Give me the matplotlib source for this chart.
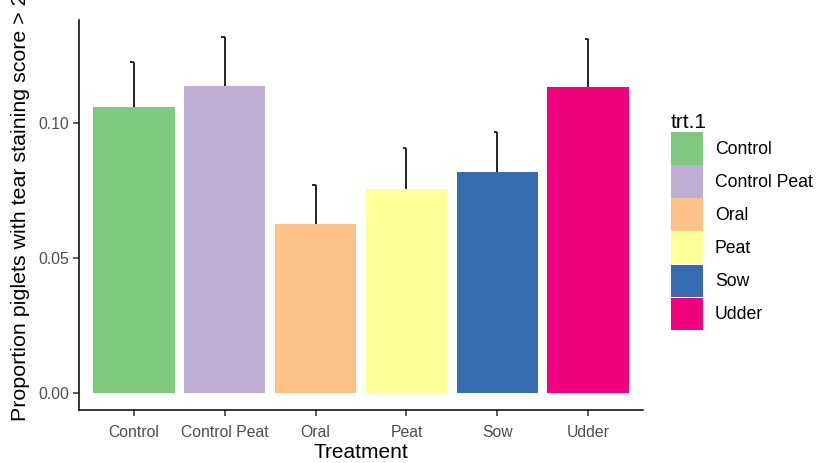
import matplotlib.pyplot as plt
from matplotlib.patches import Patch

plt.rcParams['font.family'] = ['Liberation Sans', 'DejaVu Sans']

# Mittelwerte und obere Fehlergrenzen je Behandlung
treatments = ['Control', 'Control Peat', 'Oral', 'Peat', 'Sow', 'Udder']
proportion = [0.1059, 0.1138, 0.0626, 0.0756, 0.0820, 0.1132]
upper_err = [0.1226, 0.1317, 0.0770, 0.0907, 0.0965, 0.1310]
colors = ['#7FC97F', '#BEAED4', '#FDC086', '#FFFF99', '#386CB0', '#F0027F']
yticks = [0.00, 0.05, 0.10]

fig = plt.figure(figsize=(8.16, 4.63), dpi=100)
ax = fig.add_axes([0.0968, 0.1145, 0.6912, 0.8423])

x = list(range(1, len(treatments) + 1))
ax.bar(x, proportion, width=0.9, color=colors, edgecolor='none')

# nur der obere Fehlerbalken, mit winziger Kappe
for xi, y0, y1 in zip(x, proportion, upper_err):
    ax.plot([xi, xi], [y0, y1], color='black', linewidth=1.2, solid_capstyle='butt')
    ax.plot([xi - 0.04, xi], [y1, y1], color='black', linewidth=1.2, solid_capstyle='butt')

ax.set_xlim(0.4, 6.6)
ax.set_ylim(-0.0063, 0.1381)
ax.set_xticks(x)
ax.set_xticklabels(treatments)
ax.set_yticks(yticks)
ax.set_yticklabels([f'{v:.2f}' for v in yticks])

for side in ['top', 'right']:
    ax.spines[side].set_visible(False)
for side in ['left', 'bottom']:
    ax.spines[side].set_linewidth(1.1)
    ax.spines[side].set_color('black')
ax.tick_params(axis='both', colors='#333333', labelcolor='#4D4D4D',
               labelsize=11.3, length=4, width=1.1)
ax.tick_params(axis='x', pad=7)
ax.tick_params(axis='y', pad=3)

ax.set_xlabel('Treatment', fontsize=15, labelpad=2)
ax.set_ylabel('Proportion piglets with tear staining score > 2', fontsize=15.4)
ax.yaxis.set_label_coords(-0.087, 0.52)

handles = [Patch(facecolor=c, edgecolor='none', label=t) for t, c in zip(treatments, colors)]
leg = fig.legend(handles=handles, title='trt.1', loc='upper left',
                 bbox_to_anchor=(0.822, 0.757), frameon=False,
                 fontsize=12.7, title_fontsize=15,
                 handlelength=1.8, handleheight=2.45, handletextpad=0.7,
                 labelspacing=0.04, borderaxespad=0, borderpad=0)
leg._legend_box.align = 'left'

fig.savefig('out.png', dpi=100)
